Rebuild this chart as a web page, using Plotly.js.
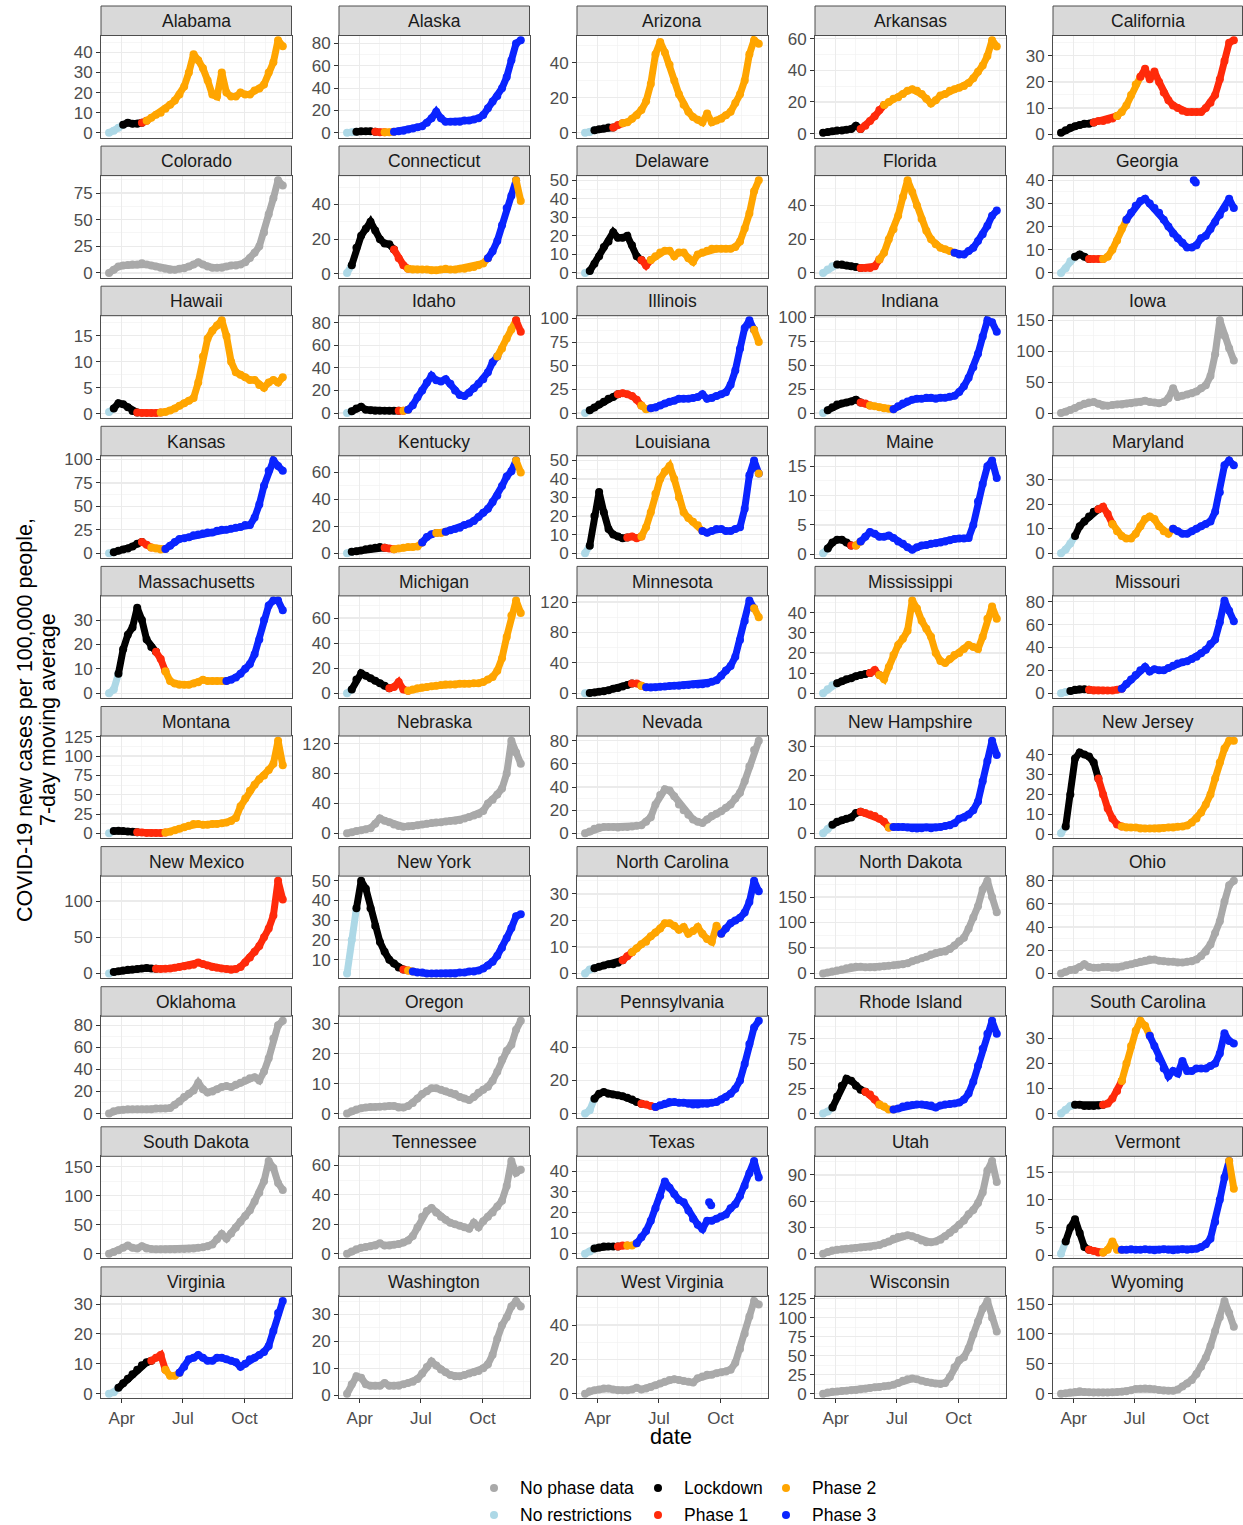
<!DOCTYPE html>
<html>
<head>
<meta charset="utf-8">
<script src="https://cdn.plot.ly/plotly-3.0.1.min.js"></script>
<style>html,body{margin:0;padding:0;background:#fff;}#chart{width:1243px;height:1525px;}</style>
</head>
<body>
<div id="chart"></div>
<script>
// ---------- DATA (weekly readings of the 7-day average, per 100,000) ----------
const dates = ["2020-03-13","2020-03-20","2020-03-27","2020-04-03","2020-04-10","2020-04-17","2020-04-24","2020-05-01","2020-05-08","2020-05-15","2020-05-22","2020-05-29","2020-06-05","2020-06-12","2020-06-19","2020-06-26","2020-07-03","2020-07-10","2020-07-17","2020-07-24","2020-07-31","2020-08-07","2020-08-14","2020-08-21","2020-08-28","2020-09-04","2020-09-11","2020-09-18","2020-09-25","2020-10-02","2020-10-09","2020-10-16","2020-10-23","2020-10-30","2020-11-06","2020-11-13","2020-11-20","2020-11-27"];

const stateNames = ["Alabama","Alaska","Arizona","Arkansas","California","Colorado","Connecticut","Delaware","Florida","Georgia","Hawaii","Idaho","Illinois","Indiana","Iowa","Kansas","Kentucky","Louisiana","Maine","Maryland","Massachusetts","Michigan","Minnesota","Mississippi","Missouri","Montana","Nebraska","Nevada","New Hampshire","New Jersey","New Mexico","New York","North Carolina","North Dakota","Ohio","Oklahoma","Oregon","Pennsylvania","Rhode Island","South Carolina","South Dakota","Tennessee","Texas","Utah","Vermont","Virginia","Washington","West Virginia","Wisconsin","Wyoming"];

const alabama = [0,1,2.5,4,5,4.5,4.5,5,6,7.5,9,10,12,14,16,19,23,30,39,36,32,26,19,18,30,20,18,18,20,19,19,21,22,24,30,35,46,43];
const alaska = [0,0.5,1,1.5,1.5,1.5,1,0.5,0.5,0.5,1,1.5,2,3,4,5,6,9,13,19,13,10,10,10,10,11,11,12,13,16,22,28,33,40,50,65,80,83];
const arizona = [0,0.5,1.5,2,2.5,3,3,4.5,5.5,6,8,10,13,18,28,45,52,46,39,30,22,16,12,9,7.5,6,11,6,7,8,10,12,17,22,30,45,53,51];
const arkansas = [0.5,1,1.5,2,2,2.5,3,5,3,5,8,11,15,18,20,22,23,25,27,28,27,25,22,19,21,24,25,27,28,29,30,32,35,39,43,49,59,55];
const california = [0.5,1.5,2.5,3,3.5,4,4,4.5,5,5,5.5,6,7,8.5,11,15,19,22,25,21,24,20,16,13,11,10,9,8.5,8.5,8.5,8.5,10,12,15,21,28,35,36];
const colorado = [0,3,6,7,7.5,8,8,9,8,7,6,5,4,3,3,4,4.5,6,8,10,8,6,5,5,5,6,7,7,8,10,14,19,25,38,55,70,87,82];
const connecticut = [0.5,5,15,22,26,30,25,20,17.5,17,14,9,5,3,2.5,2.5,2.5,2.5,2,2,2.5,3,2.5,2.5,3,3,3.5,4,5,6,9,13,19,28,38,45,54,42];
const delaware = [0,1,5,9,14,17,22,19,19,20,15,9,7,4,7,9,11,12,12,9,11,11,8,6,10,11,12,13,13,13,13,13,14,17,24,32,44,50];
const florida = [0,2,4,5,5,4.5,4,3.5,3,3,3,4,8,12,20,26,34,45,55,48,40,32,25,20,17,15,14,13,12,11,11,13,15,19,23,28,34,37];
const georgia = [0,2,5,7,8,7,6,6,6,6,7,10,14,19,23,26,29,31,32,30,28,26,23,20,17,15,13,11,11,12,15,16,19,22,25,28,32,28];
const hawaii = [0.3,1,2,1.8,1.2,0.5,0.2,0.1,0.1,0.1,0.1,0.2,0.3,0.6,1,1.5,2,2.5,3,6,11,14.5,16,17,18,15,10,8,7.5,7,6.5,6.5,5.5,5,6,6.5,6,7];
const idaho = [0,1.5,4,5.5,3,2.5,2,2,2,2,2,2,2,3,7,14,20,27,33,29,28,30,26,20,16,15,18,22,26,30,36,45,50,57,66,74,82,72];
const illinois = [0,3,6,9,12,15,17,20,21,20,18,14,8,4,5,6,8,10,12,13,15,15,15,16,17,20,15,16,18,20,22,30,45,68,90,98,88,75];
const indiana = [0,3,6,9,10,11,12,14,11,10,8,7,6,5,4.5,4,7,10,12,14,15,15,16,16,15,16,16,17,18,22,28,37,48,62,80,97,95,85];
const iowa = [0,2,5,8,12,15,17,18,15,12,12,13,14,14,15,16,17,18,20,18,17,16,18,24,40,26,28,30,32,35,40,45,60,95,150,125,105,85];
const kansas = [0,1,2.5,4,5,7,10,12,9,6,5,4,4.5,8,12,15,16,17,19,20,21,22,22,24,25,25,26,27,28,30,30,38,52,72,88,99,93,88];
const kentucky = [0,1,1.5,2,3,3.5,4,4.5,4,3.5,3,3.5,4,4.5,4.5,5,8,12,14,15,15,16,17,18,19,21,22,24,27,30,33,38,43,50,57,61,69,60];
const louisiana = [0,4,20,33,22,13,10,9,8,8.5,9,8,9,14,22,32,40,44,47,40,30,22,19,17,15,12,11,12,13,13,12,12,13,14,24,42,50,43];
const maine = [0.2,1,2,2.5,2.5,2,1.5,1.5,2.2,3,3.8,3.5,3,3,3.2,2.8,2.2,1.8,1.2,0.8,1.2,1.5,1.6,1.8,1.9,2,2.2,2.4,2.6,2.7,2.7,2.8,5,9,12,15,16,13];
const maryland = [0,1.5,4,7,11,13,15,17,18,19,16,12,9,7,6,6,8,11,14,15,14,11,9,8,10,9,8,8,9,10,11,12,13,17,25,36,38,36];
const massachusetts = [0,1.5,8,18,24,27,35,30,22,19,17,14,9,5,4,3.5,3.5,3.5,4,4.5,5.5,5,5,5,5,5,5.5,6.5,8,10,12,16,22,30,36,38,38,34];
const michigan = [0,3,11,16,14,12,10,8,6,4,5,9,3,2,3,4,4.5,5,5.5,6,6.5,7,7,7,7.5,7.5,7.5,8,8,9,11,13,18,28,45,62,74,64];
const minnesota = [0,0.5,1,2,2.5,4,6,7,9,11,13,13,10,8,7.5,8,8.5,9,9.5,10,10,10.5,11,11.5,11.5,12,13,15,17,23,30,36,48,70,95,122,112,100];
const mississippi = [0,2,4,5,6,7,7.5,8.5,9,9.5,10,11.5,9,7,13,19,24,27,31,46,42,36,32,28,20,16,15,17,19,20,22,24,23,22,28,37,43,37];
const missouri = [0,1,2,3,3.5,3.5,3,2.5,2.5,2.5,2.5,2.5,3,4,8,12,16,20,23,19,21,20,20,22,24,26,27,28,30,32,35,38,43,47,62,81,72,63];
const montana = [0,3,3.5,3,2.5,2,1.5,1,0.5,0.5,0.5,0.5,1,2,4,6,8,10,12,12,11,11,12,12,13,14,16,20,35,45,55,63,70,75,82,90,120,88];
const nebraska = [0,1.5,3,4,5.5,7,13,20,17,15,12,10,9,9.5,10,11,12,13,14,14.5,15,16,16.5,17,18,20,22,24,26,30,40,45,52,60,80,124,108,93];
const nevada = [0,1.5,4,5,5.5,5.5,5.5,5,5.5,5.5,6,6.5,7,10,14,25,33,38,37,32,25,20,16,12,10,9,12,15,17,19,22,25,30,35,45,58,72,80];
const newHampshire = [0,1.5,3,4,4.5,5,5.5,7,7.5,7,6.5,6,5,4,2,2.2,2.2,2.2,2,1.8,1.7,1.8,2,1.8,2,2.2,2.5,2.8,3.5,5,5.5,6.5,8,11,18,25,32,27];
const newJersey = [0.5,4,20,38,41,40,39,36,28,20,13,8,5,4,3.5,3.5,3.5,3,3,3,3,3,3.2,3.4,3.5,3.8,4,4.5,6,8,11,15,20,28,36,43,47,47];
const newMexico = [0,2,3,4,5,5.5,6,7,7.5,7,6.5,6,6.5,7,8,9,10,11,12,15,13,11,9,8,7,6,5,6,9,15,22,30,38,50,62,80,128,102];
const newYork = [3,20,36,50,46,36,27,19,14,10,8,6,5,4.5,4,3.5,3.5,3,3,3,3,3,3,3,3.5,3.5,4,4,4.5,5.5,7,9,12,16,21,26,32,33];
const northCarolina = [0,1.5,2,2.5,3,3.5,3.5,4,5,6.5,8,9.5,11,12,14,15.5,17,19,19,18,16.5,17.5,15,16,17.5,15,13,12,18,15,17,19,20,21,23,27,35,31];
const northDakota = [0,2,4,6,8,10,12,13,13,12,12,12,13,14,15,16,17,18,20,24,27,30,33,37,40,42,43,48,55,63,70,88,110,132,165,182,150,120];
const ohio = [0,1.5,3,3,5.5,8,5.5,5,5,5.5,5.5,5,5,6,7,8,9,10,11,12,12,11,10.5,10,10,9.5,9.5,10,10.5,12,15,19,25,35,45,62,76,80];
const oklahoma = [0,2,3,3.5,4,4,4,4,4,4,4.5,4.5,4.5,5,8,11,15,18,21,28,22,19,20,22,24,25,24,26,28,30,32,33,30,38,50,68,80,84];
const oregon = [0,0.8,1.4,1.8,2,2.2,2.2,2.3,2.4,2.5,2.5,2,2,2.5,3.5,5,6.5,7.5,8.5,8.5,8,7.5,7,6.5,5.5,5,4.5,5.5,7,8,9,11,14,18,21,23,28,31];
const pennsylvania = [0,2,9,12,13,12,11.5,11,10.5,9.5,8.5,7,6,5.5,4.5,4,5,6,7,7,6.5,6.5,6,5.5,5.5,6,6,6.5,7,8.5,10,12,15,20,30,42,52,56];
const rhodeIsland = [0,2,6,17,28,35,33,28,24,22,19,14,9,7,4,4,5,7,8,8.5,9,9,8.5,8,6,8,9,9.5,10,11,14,20,32,48,65,80,93,80];
const southCarolina = [0,1.5,3,3.5,3.5,3,3,3,3.2,3.5,4,6,9,13,20,27,33,37,35,31,27,22,18,15,17,16,21,17,17,18,18,18,19,20,24,32,29,28];
const southDakota = [0,3,6,10,14,10,9,13,9,8,7.5,7.5,7.5,7.5,7.5,8,8,8.5,9,10,11,13,16,25,34,26,35,45,55,65,75,90,105,125,160,148,122,110];
const tennessee = [0,1.5,3,4,4.5,5,5.5,7,5.5,5.5,6,6.5,7.5,9,12,18,25,29,31,28,25,23,21,20,19,18,17,21,18,22,25,28,32,36,46,63,55,57];
const texas = [0,1,2.5,3,3.5,3.5,3.5,3.5,4,4,4,5,8,11,16,22,28,35,32,29,26,25,21,17,14,12,16,16,17,18,19,22,24,28,33,39,45,37];
const utah = [0,2,3.5,4.5,5,5.5,6,6.5,7,7.5,8,9,10,12,14,17,19,20,21,20,18,15,13,13,14,16,20,24,28,33,38,45,50,58,70,95,106,82];
const vermont = [0.3,2.5,5,6.5,4,1.5,1,0.8,0.5,0.5,1,2.5,1,1,1,1.1,1,1,1.1,1,0.9,1,1.1,1,0.9,1,1.1,1,1.1,1.2,1.5,2,3,6,10,14,17,12];
const virginia = [0,0.5,2,3.5,5,6.5,8,9.5,10.5,11,12,13,8,6,6,7,9,11.5,12,13,12,11,11,12,12,11.5,11,10.5,9,10,11.5,12,13,14,16,21,27,31];
const washington = [0.5,4,7,6.5,4,3.5,3.5,3.5,4.5,3.5,3.5,3.5,4,4.5,5,6,8,10.5,12.5,11,9.5,8.5,7.5,7,7,7.5,8,8.5,9,10,11.5,15,21,26,29,33,35,33];
const westVirginia = [0,1.5,2,2.5,3,3,2.5,2,2,2,2.5,3.5,2.5,3,4,5,6,7,8,8.5,8,7.5,7,6.5,9,10,11,11,12,12.5,13,14,18,26,35,45,54,52];
const wisconsin = [0,1.5,2.5,3,3.5,4,4.5,5,6,6.5,7.5,8.5,9,10,10.5,12,14,17,19,20,19,17,15.5,14.5,13.5,13,14,22,35,44,48,60,78,95,112,122,100,82];
const wyoming = [0,1,2,3,4,3,2.5,2,2,2,2,2.5,3,3.5,4,6,8,8.5,9,8.5,7.5,6.5,5.5,5,5,7,12,17,23,33,45,60,80,105,128,155,135,112];

// phase runs: code + number of weeks (last run fills the rest)
// g = no phase data, n = no restrictions, L = lockdown, r = phase 1, o = phase 2, b = phase 3
const phaseRuns = ["n3 L4 r1 o","n2 L4 r2 o2 b","n2 L4 r2 o","L8 r5 o","L7 r5 o5 r",
 "g","n1 L9 r3 o17 b6 o","n1 L11 r2 o","n3 L5 r4 o16 b","n3 L3 r3 o5 b",
 "n1 L5 r5 o","n1 L10 r1 o1 b19 o4 r","n1 L6 r5 o2 b22 o","n1 L7 r2 o5 b","g",
 "n1 L6 r2 o3 b","n1 L7 r2 o6 b3 o2 b15 o","n1 L8 r3 o13 b12 o","n1 L5 r1 o1 b","n3 L5 r3 o13 b",
 "n2 L8 r2 o13 b","n1 L8 r4 o","n1 L9 r2 o1 b23 o","n3 L7 r2 o","n2 L4 r7 b",
 "n1 L5 r6 o","g","g","n2 L6 r6 o1 b","n1 L7 r5 o",
 "n1 L9 r","n2 L10 r1 o1 b","n2 L6 r2 o19 b","g","g",
 "g","g","n2 L10 r3 b","n2 L7 r3 o3 b","n3 L6 r4 o6 b",
 "g","g","n2 L5 r2 o2 b","g","n1 L5 r3 o4 b23 o",
 "n2 L7 r3 o3 b","g","g","g","g"];

// isolated readings off the main trail
const extraState = ["Georgia","Georgia","Texas","Texas"];
const extraDate = ["2020-09-28","2020-10-01","2020-09-14","2020-09-17"];
const extraValue = [40,39,25,23.5];
const extraPhase = ["b","b","b","b"];

// y tick step of each panel
const yStep = [10,20,20,20,10, 25,20,10,20,10, 5,20,25,25,50, 25,20,10,5,10, 10,20,40,10,20,
               25,40,20,10,10, 50,10,10,50,20, 20,10,20,25,10, 50,20,10,30,5, 10,10,20,25,50];

const legendLabels = ["No phase data","Lockdown","Phase 2","No restrictions","Phase 1","Phase 3"];
const legendCodes = ["g","L","o","n","r","b"];

// ---------- BUILD ----------
const series = [alabama,alaska,arizona,arkansas,california,colorado,connecticut,delaware,florida,georgia,hawaii,idaho,illinois,indiana,iowa,kansas,kentucky,louisiana,maine,maryland,massachusetts,michigan,minnesota,mississippi,missouri,montana,nebraska,nevada,newHampshire,newJersey,newMexico,newYork,northCarolina,northDakota,ohio,oklahoma,oregon,pennsylvania,rhodeIsland,southCarolina,southDakota,tennessee,texas,utah,vermont,virginia,washington,westVirginia,wisconsin,wyoming];

const phaseColor = {g:"#A9A9A9", n:"#ADD8E6", L:"#000000", r:"#FF2A0A", o:"#FFA500", b:"#0A24FF"};
const W = 1243, H = 1525;
const px = x => x / W;
const py = y => 1 - y / H;
const colLeft = [101, 339, 577, 815, 1053];
const panelW = 190.5;
const FONT = "Liberation Sans, Arial, Helvetica, sans-serif";

const traces = [];
const layout = {
  width: W, height: H, margin: {l:0, r:0, t:0, b:0},
  paper_bgcolor: "#ffffff", plot_bgcolor: "#ffffff",
  showlegend: false, hovermode: false,
  font: {family: FONT, color: "#000"},
  shapes: [], annotations: []
};

series.forEach((vals, s) => {
  const col = s % 5, row = Math.floor(s / 5);
  const sfx = s === 0 ? "" : String(s + 1);
  const xa = "x" + sfx, ya = "y" + sfx;
  const left = colLeft[col], right = Math.min(left + panelW, 1242.5);
  const stripTop = 6 + 140.1 * row, pTop = 35.5 + 140.1 * row, pBot = 137.5 + 140.1 * row;

  const runs = phaseRuns[s].split(" ");
  let idx = 0;
  runs.forEach((r, ri) => {
    const code = r[0];
    const n = (ri === runs.length - 1 || r.length === 1) ? vals.length - idx : parseInt(r.slice(1));
    const end = idx + n - 1;
    const stop = Math.min(end + 2, vals.length);
    traces.push({
      type: "scatter", mode: "lines+markers", xaxis: xa, yaxis: ya,
      x: dates.slice(idx, stop), y: vals.slice(idx, stop),
      line: {color: phaseColor[code], width: 7},
      marker: {color: phaseColor[code], size: 8},
      hoverinfo: "skip", cliponaxis: true
    });
    idx = end + 1;
  });

  const ex = [], ey = [], ec = [];
  extraState.forEach((st, k) => {
    if (st === stateNames[s]) { ex.push(extraDate[k]); ey.push(extraValue[k]); ec.push(phaseColor[extraPhase[k]]); }
  });
  if (ex.length) traces.push({type:"scatter", mode:"markers", xaxis:xa, yaxis:ya, x:ex, y:ey, marker:{color:ec, size:8}, hoverinfo:"skip"});

  const all = vals.concat(ey);
  const lo = Math.min(...all), hi = Math.max(...all), pad = 0.05 * (hi - lo);

  const step = yStep[s];
  layout["xaxis" + sfx] = {
    domain: [px(left), px(right)], anchor: ya, type: "date",
    range: ["2020-03-01", "2020-12-10"],
    tickmode: "array", tickvals: ["2020-04-01","2020-07-01","2020-10-01"], ticktext: ["Apr","Jul","Oct"],
    showgrid: true, gridcolor: "#EBEBEB", gridwidth: 1.2,
    minor: {tickmode: "linear", tick0: "2020-03-01", dtick: "M1", showgrid: true, gridcolor: "#F2F2F2", gridwidth: 0.7, ticks: ""},
    showline: true, mirror: true, linecolor: "#4D4D4D", linewidth: 1,
    zeroline: false,
    ticks: row === 9 ? "outside" : "", ticklen: 4, tickcolor: "#333333", tickwidth: 1,
    showticklabels: row === 9,
    tickfont: {family: FONT, size: 17, color: "#4D4D4D"}, fixedrange: true
  };
  layout["yaxis" + sfx] = {
    domain: [py(pBot), py(pTop)], anchor: xa,
    range: [lo - pad, hi + pad],
    tickmode: "linear", tick0: 0, dtick: step,
    showgrid: true, gridcolor: "#EBEBEB", gridwidth: 1.2,
    minor: {tickmode: "linear", tick0: 0, dtick: step / 2, showgrid: true, gridcolor: "#F2F2F2", gridwidth: 0.7, ticks: ""},
    showline: true, mirror: true, linecolor: "#4D4D4D", linewidth: 1,
    zeroline: false,
    ticks: "outside", ticklen: 4, tickcolor: "#333333", tickwidth: 1,
    tickfont: {family: FONT, size: 17, color: "#4D4D4D"}, fixedrange: true
  };

  layout.shapes.push({type:"rect", xref:"paper", yref:"paper",
    x0: px(left), x1: px(right), y0: py(pTop), y1: py(stripTop),
    fillcolor: "#D9D9D9", line: {color: "#4D4D4D", width: 1}, layer: "above"});
  layout.annotations.push({xref:"paper", yref:"paper", x: px((left + right) / 2), y: py((stripTop + pTop) / 2 + 0.5),
    text: stateNames[s], showarrow: false, xanchor: "center", yanchor: "middle",
    font: {family: FONT, size: 17.5, color: "#1A1A1A"}});
});

layout.annotations.push({xref:"paper", yref:"paper", x: px(671.5), y: py(1437), text: "date", showarrow:false,
  xanchor:"center", yanchor:"middle", font:{family:FONT, size:21.5, color:"#000"}});
layout.annotations.push({xref:"paper", yref:"paper", x: px(25), y: py(720), text: "COVID-19 new cases per 100,000 people,", showarrow:false,
  textangle:-90, xanchor:"center", yanchor:"middle", font:{family:FONT, size:21.5, color:"#000"}});
layout.annotations.push({xref:"paper", yref:"paper", x: px(48), y: py(720), text: "7-day moving average", showarrow:false,
  textangle:-90, xanchor:"center", yanchor:"middle", font:{family:FONT, size:21.5, color:"#000"}});

const legDotX = [494, 658, 786], legTextX = [518, 682, 810], legY = [1488, 1515];
legendLabels.forEach((lab, k) => {
  const c = k % 3, r = Math.floor(k / 3);
  const cx = legDotX[c], cy = legY[r], rad = 4;
  layout.shapes.push({type:"circle", xref:"paper", yref:"paper",
    x0: px(cx - rad), x1: px(cx + rad), y0: py(cy + rad), y1: py(cy - rad),
    fillcolor: phaseColor[legendCodes[k]], line: {width: 0}});
  layout.annotations.push({xref:"paper", yref:"paper", x: px(legTextX[c]), y: py(cy), text: lab, showarrow:false,
    xanchor:"left", yanchor:"middle", font:{family:FONT, size:17.5, color:"#000"}});
});

Plotly.newPlot("chart", traces, layout, {staticPlot: true, displayModeBar: false});
</script>
</body>
</html>
